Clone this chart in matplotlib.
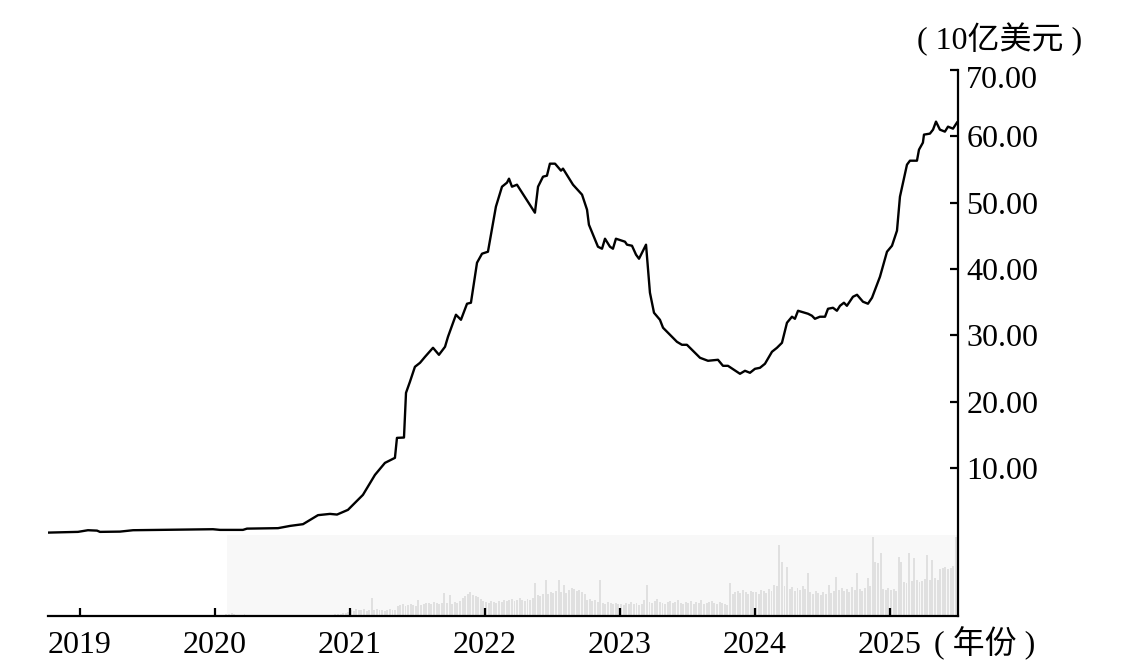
import numpy as np
import matplotlib
matplotlib.use("Agg")
import matplotlib.pyplot as plt
from matplotlib.transforms import ScaledTranslation

plt.rcParams['font.family'] = ['Liberation Serif', 'Noto Sans CJK SC']

# line series: time (decimal years) and value (10亿美元)
t = [2018.763, 2018.985, 2019.059, 2019.126, 2019.148, 2019.296, 2019.393, 2019.985,
     2020.037, 2020.207, 2020.237, 2020.467, 2020.556, 2020.652, 2020.726, 2020.763,
     2020.852, 2020.904, 2020.985, 2021.037, 2021.096, 2021.185, 2021.259, 2021.333,
     2021.348, 2021.400, 2021.415, 2021.444, 2021.481, 2021.519, 2021.556, 2021.615,
     2021.659, 2021.704, 2021.726, 2021.785, 2021.822, 2021.867, 2021.896, 2021.941,
     2021.978, 2022.022, 2022.081, 2022.126, 2022.163, 2022.178, 2022.200, 2022.237,
     2022.370, 2022.393, 2022.430, 2022.459, 2022.481, 2022.519, 2022.563, 2022.578,
     2022.652, 2022.719, 2022.756, 2022.770, 2022.837, 2022.867, 2022.889, 2022.926,
     2022.948, 2022.970, 2023.037, 2023.052, 2023.089, 2023.119, 2023.141, 2023.193,
     2023.222, 2023.252, 2023.296, 2023.319, 2023.356, 2023.422, 2023.459, 2023.496,
     2023.593, 2023.652, 2023.726, 2023.763, 2023.800, 2023.889, 2023.926, 2023.963,
     2024.000, 2024.037, 2024.074, 2024.126, 2024.163, 2024.200, 2024.237, 2024.274,
     2024.296, 2024.319, 2024.393, 2024.422, 2024.444, 2024.481, 2024.519, 2024.541,
     2024.578, 2024.607, 2024.630, 2024.659, 2024.681, 2024.726, 2024.756, 2024.800,
     2024.837, 2024.867, 2024.926, 2024.978, 2025.015, 2025.052, 2025.074, 2025.126,
     2025.148, 2025.200, 2025.215, 2025.244, 2025.252, 2025.296, 2025.319, 2025.341,
     2025.370, 2025.407, 2025.430, 2025.467, 2025.496]
v = [0.27, 0.38, 0.63, 0.57, 0.38, 0.42, 0.63, 0.78,
     0.68, 0.68, 0.87, 0.94, 1.28, 1.54, 2.44, 2.90,
     3.09, 2.99, 3.70, 4.75, 5.96, 8.97, 10.78, 11.54,
     14.55, 14.60, 21.34, 23.00, 25.26, 25.87, 26.77, 28.13,
     27.07, 28.28, 29.79, 33.11, 32.35, 34.77, 34.92, 40.95,
     42.31, 42.61, 49.40, 52.41, 53.02, 53.62, 52.41, 52.71,
     48.49, 52.41, 53.92, 54.07, 55.88, 55.88, 54.83, 55.13,
     52.71, 51.21, 48.94, 46.68, 43.36, 43.06, 44.57, 43.36,
     43.06, 44.57, 44.12, 43.67, 43.51, 42.16, 41.55, 43.67,
     36.43, 33.41, 32.35, 31.15, 30.39, 29.03, 28.58, 28.58,
     26.62, 26.17, 26.32, 25.41, 25.41, 24.21, 24.66, 24.36,
     24.96, 25.11, 25.72, 27.53, 28.13, 28.88, 31.90, 32.81,
     32.50, 33.71, 33.26, 32.96, 32.50, 32.81, 32.81, 34.01,
     34.16, 33.71, 34.46, 34.92, 34.46, 35.82, 36.12, 35.07,
     34.77, 35.67, 38.84, 42.61, 43.51, 45.78, 50.90, 55.73,
     56.33, 56.33, 57.99, 59.05, 60.26, 60.41, 61.01, 62.22,
     61.01, 60.71, 61.46, 61.16, 62.07]

# weekly volume bars (arbitrary units), per year
vol_2020 = [2, 2, 3, 2, 1, 1, 1, 2, 1, 1, 1, 1, 1, 1, 1, 1, 1, 1, 1, 1, 1, 1, 1, 1,
            1, 1, 1, 1, 1, 1, 1, 1, 1, 1, 1, 1, 1, 1, 1, 1, 1, 1, 2, 2, 2, 3, 3, 4]
vol_2021 = [6, 5, 7, 6, 6, 7, 5, 6, 18, 6, 7, 6,
            6, 5, 6, 7, 6, 6,
            10, 11, 12, 10, 11, 12, 11, 10, 16, 11, 12, 13,
            13, 12, 14, 13, 12, 13, 23,
            13, 21, 12, 14, 13, 15,
            18, 20, 22, 24, 21, 20, 19, 17, 15]
vol_2022 = [14, 13, 15, 14, 13, 15, 14, 16, 15,
            16, 17, 15, 16, 18, 16, 15, 17, 16, 18, 33,
            21, 20, 22, 36, 22, 24, 23, 25, 36, 24, 31, 23,
            26, 28, 27, 25, 26, 24, 22,
            16, 17, 15, 16, 14, 36,
            13, 12, 14, 13, 12, 13, 12]
vol_2023 = [12, 11, 13, 12, 14, 12, 13, 11, 12, 16, 31,
            14, 13, 15, 17, 14, 13, 12, 14, 15, 13, 14, 16, 13, 12, 14, 13,
            15, 12, 14, 13, 16, 12, 13, 14, 15, 13, 12, 14, 13, 12, 11, 33,
            22, 24, 25, 23, 26, 24, 22, 25, 24]
vol_2024 = [24, 22, 26, 25, 23, 27, 25, 31, 30, 71, 54, 30, 49,
            27, 29, 25, 28, 26, 30, 27, 43,
            24, 22, 25, 23, 21, 24, 22, 31, 23, 25, 39,
            26, 28, 25, 27, 24, 29, 26, 43, 27, 25, 28, 38,
            30, 79, 54, 53, 63, 27, 26, 28]
vol_2025 = [26, 27, 25, 59, 54, 34, 33, 63, 35, 58, 36, 34, 35, 37, 61, 36, 56,
            38, 36, 47, 48, 49, 47, 48, 50, 79]

years = [2020, 2021, 2022, 2023, 2024, 2025]
vols = [vol_2020, vol_2021, vol_2022, vol_2023, vol_2024, vol_2025]
first_week = [5, 1, 1, 1, 1, 1]

bx, bh = [], []
for yr, arr, w0 in zip(years, vols, first_week):
    bx.extend(yr + (np.arange(len(arr)) + w0 - 1) / 52)
    bh.extend(arr)
bx = np.array(bx)
bh = np.array(bh, dtype=float)

xticks = [2019, 2020, 2021, 2022, 2023, 2024, 2025]
yticks = [10, 20, 30, 40, 50, 60, 70]

x0, x1 = 2018.763, 2025.504
y0, y1 = -12.3, 70
vol_scale = 10 / 66.3

fig = plt.figure(figsize=(11.3, 6.71), dpi=100)
ax = fig.add_axes([48 / 1130, 55 / 671, 910 / 1130, 546 / 671])

# pale panel behind the volume bars
ax.axvspan(2020.09, x1, ymin=0, ymax=81 / 546, color='#f8f8f8', lw=0, zorder=0)
ax.bar(bx, bh * vol_scale, bottom=y0, width=0.75 / 52, color='#e0e0e0',
       lw=0, zorder=1, align='edge')
ax.plot(t, v, color='black', lw=1.7, zorder=3)

ax.set_xlim(x0, x1)
ax.set_ylim(y0, y1)

for s in ['top', 'left']:
    ax.spines[s].set_visible(False)
for s in ['bottom', 'right']:
    ax.spines[s].set_linewidth(1.6)

ax.yaxis.tick_right()
ax.set_yticks(yticks)
ax.set_yticklabels([f'{y:.2f}' for y in yticks])
ax.set_xticks(xticks)
ax.set_xticklabels([str(x) for x in xticks])
ax.tick_params(axis='both', direction='in', length=6, width=1.6, labelsize=23)
ax.tick_params(axis='y', pad=6)
ax.tick_params(axis='x', pad=11)

# top label sits a little below its tick
top_lbl = ax.get_yticklabels()[-1]
top_lbl.set_transform(top_lbl.get_transform() + ScaledTranslation(0, -7 / 100, fig.dpi_scale_trans))

fig.text(1000 / 1130, 1 - 39 / 671, '( 10亿美元 )', ha='center', va='center', fontsize=23)
fig.text(985 / 1130, 1 - 643 / 671, '( 年份 )', ha='center', va='center', fontsize=23)

fig.savefig('out.png', dpi=100)
